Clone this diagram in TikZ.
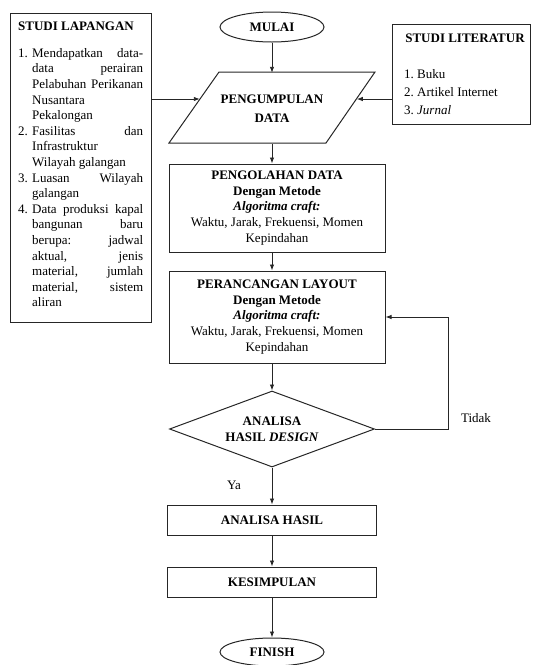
\documentclass[tikz,border=0pt]{standalone}
\usepackage{fontspec}
\setmainfont{Liberation Serif}
\usetikzlibrary{shapes.geometric, arrows.meta}
\newcommand\jline[2]{\makebox[14pt][l]{#1}\makebox[111pt][s]{#2}}
\newcommand\lline[2]{\makebox[14pt][l]{#1}\makebox[111pt][l]{#2}}
\begin{document}
\begin{tikzpicture}[x=1pt,y=-1pt,
  every node/.style={font=\fontsize{13}{15.6}\selectfont, text=black},
  box/.style={draw=black!85, line width=1pt, rectangle, inner sep=0pt},
  bt/.style={font=\bfseries\fontsize{13}{15.6}\selectfont},
  arr/.style={draw=black!85, line width=0.9pt, -{Latex[length=6pt,width=4.5pt]}}]
\useasboundingbox (0,0) rectangle (537,665);

% side boxes
\node[box, anchor=north west, minimum width=141pt, minimum height=309pt] (lap) at (10,13) {};
\node[bt, anchor=base west, inner sep=0] (laptitle) at (18,30) {STUDI LAPANGAN};
\node[anchor=north west, inner sep=0, align=left] (laplist) at (18,48) {%
\jline{1.}{Mendapatkan data-}\\
\jline{}{data perairan}\\
\jline{}{Pelabuhan Perikanan}\\
\lline{}{Nusantara}\\
\lline{}{Pekalongan}\\
\jline{2.}{Fasilitas dan}\\
\lline{}{Infrastruktur}\\
\lline{}{Wilayah galangan}\\
\jline{3.}{Luasan Wilayah}\\
\lline{}{galangan}\\
\jline{4.}{Data produksi kapal}\\
\jline{}{bangunan baru}\\
\jline{}{berupa: jadwal}\\
\jline{}{aktual, jenis}\\
\jline{}{material, jumlah}\\
\jline{}{material, sistem}\\
\lline{}{aliran}};

\node[box, minimum width=138pt, minimum height=100pt] (lit) at (461,74) {};
\node[bt, anchor=base, inner sep=0] (littitle) at (465,42.5) {STUDI LITERATUR};
\node[anchor=north west, inner sep=0, align=left, font=\fontsize{13}{18}\selectfont] (litlist) at (404,69) {%
\makebox[13pt][l]{1.}Buku\\
\makebox[13pt][l]{2.}Artikel Internet\\
\makebox[13pt][l]{3.}\textit{Jurnal}};

% main column
\node[draw=black!85, line width=1pt, ellipse, minimum width=104pt, minimum height=30pt, inner sep=0, bt] (mulai) at (272,27) {MULAI};
\draw[draw=black!85, line width=1pt, line join=miter] (169,143) -- (219,72) -- (375,72) -- (326,143) -- cycle;
\node[bt, align=center, minimum width=156pt, minimum height=71pt, inner sep=0] (peng) at (272,108.5) {PENGUMPULAN\\[3pt]DATA};

\node[box, minimum width=216pt, minimum height=88pt, align=center] (olah) at (277,208)
  {\textbf{PENGOLAHAN DATA}\\ \textbf{Dengan Metode}\\ \textbf{\textit{Algoritma craft:}}\\ Waktu, Jarak, Frekuensi, Momen\\ Kepindahan};
\node[box, minimum width=216pt, minimum height=92pt, align=center] (ranc) at (277,317)
  {\textbf{PERANCANGAN LAYOUT}\\ \textbf{Dengan Metode}\\ \textbf{\textit{Algoritma craft:}}\\ Waktu, Jarak, Frekuensi, Momen\\ Kepindahan};

\node[draw=black!85, line width=1pt, diamond, aspect=2.7, minimum width=205pt, minimum height=76pt, inner sep=0, align=center] (dia) at (272,429)
  {\textbf{ANALISA}\\ \textbf{HASIL \textit{DESIGN}}};

\node[box, minimum width=209pt, minimum height=30pt, bt] (hasil) at (272,520) {ANALISA HASIL};
\node[box, minimum width=209pt, minimum height=30pt, bt] (kesim) at (272,582) {KESIMPULAN};
\node[draw=black!85, line width=1pt, ellipse, minimum width=104pt, minimum height=28pt, inner sep=0, bt] (finish) at (272,652) {FINISH};

\node (tidak) at (476,418) {Tidak};
\node (ya) at (234,485) {Ya};

% connectors
\coordinate (pl) at (199.8,99);
\coordinate (pr) at (356.8,99);
\coordinate (fbx) at (448,429);
\draw[arr] (lap.east |- pl) -- (pl);
\draw[arr] (lit.west |- pr) -- (pr);
\draw[arr] (mulai) -- (peng);
\draw[arr] (peng.south) -- (peng.south |- olah.north);
\draw[arr] (olah.south -| peng.south) -- (peng.south |- ranc.north);
\draw[arr] (ranc.south -| peng.south) -- (dia.north);
\draw[arr] (dia) -- (hasil);
\draw[arr] (hasil) -- (kesim);
\draw[arr] (kesim) -- (finish);
\draw[arr] (dia.east) -- (fbx) -- (fbx |- ranc.east) -- (ranc.east);
\end{tikzpicture}
\end{document}
